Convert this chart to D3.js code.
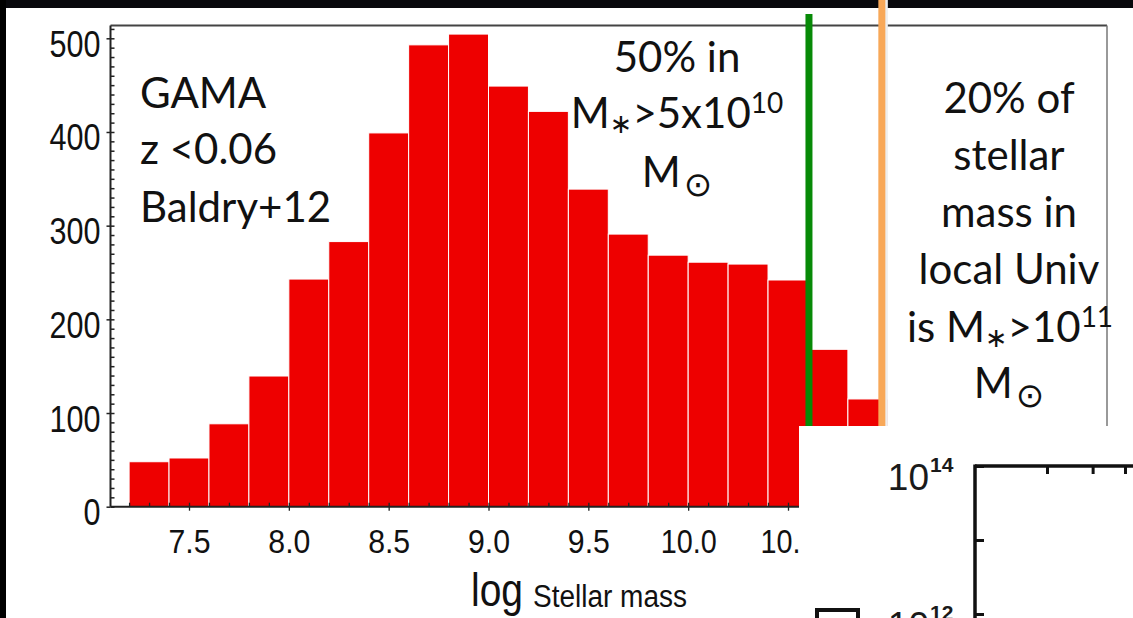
<!DOCTYPE html>
<html>
<head>
<meta charset="utf-8">
<script src="https://cdn.jsdelivr.net/npm/d3@7.9.0/dist/d3.min.js"></script>
<style>
  html, body { margin: 0; padding: 0; background: #fff; }
  svg { display: block; }
  .tick-label { font-family: "Liberation Sans", Arial, sans-serif; fill: #111; }
  .note { font-family: Lato, "Open Sans", sans-serif; fill: #111; }
</style>
</head>
<body>
<div id="chart"></div>
<script>
// histogram bins (left edge of each 0.2 dex bin) and galaxy counts
const binStarts = [7.2, 7.4, 7.6, 7.8, 8.0, 8.2, 8.4, 8.6, 8.8, 9.0, 9.2, 9.4, 9.6, 9.8, 10.0, 10.2, 10.4, 10.6, 10.8];
const counts    = [48, 52, 88.5, 139.5, 243, 283, 399, 493, 504.5, 449, 422, 339, 291, 268.5, 261, 259, 242, 168, 115];
const binWidth = 0.2;

const xTickValues = [7.5, 8.0, 8.5, 9.0, 9.5, 10.0, 10.5];
const yTickValues = [0, 100, 200, 300, 400, 500];

// mass thresholds marked by vertical lines
const greenLineMass = 10.605;
const orangeLineMass = 10.97;

// partial inset panel (log axis)
const insetYTicks = [1e12, 1e13, 1e14];
const insetYLabels = [1e14, 1e12];
const insetXTicks = [2, 3, 4];

const width = 1133;
const height = 618;

const svg = d3.select('#chart')
  .append('svg')
  .attr('width', width)
  .attr('height', height);

// dark slide border
svg.append('rect').attr('x', 0).attr('y', 0).attr('width', width).attr('height', 8).attr('fill', '#08080c');
svg.append('rect').attr('x', 0).attr('y', 0).attr('width', 6).attr('height', height).attr('fill', '#000');

const frame = { left: 110.5, top: 25.5, right: 1107, bottom: 506.7 };

const x = d3.scaleLinear().domain([7.5, 10.5]).range([189, 788]);
const y = d3.scaleLinear().domain([0, 500]).range([506.7, 38.3]);

// bars
svg.append('g')
  .selectAll('rect')
  .data(binStarts.map((b, i) => ({ start: b, count: counts[i] })))
  .join('rect')
  .attr('x', d => x(d.start))
  .attr('y', d => y(d.count))
  .attr('width', d => x(d.start + binWidth) - x(d.start))
  .attr('height', d => y(0) - y(d.count))
  .attr('fill', '#ee0000')
  .attr('stroke', '#fff')
  .attr('stroke-width', 1);

// frame
svg.append('line').attr('x1', frame.left).attr('x2', frame.right).attr('y1', frame.top).attr('y2', frame.top)
  .attr('stroke', '#444').attr('stroke-width', 2);
svg.append('line').attr('x1', frame.right).attr('x2', frame.right).attr('y1', frame.top).attr('y2', frame.bottom)
  .attr('stroke', '#777').attr('stroke-width', 1.5);

// x axis: major ticks outward with labels, minor ticks inward
const xAxis = svg.append('g')
  .attr('transform', `translate(0, ${frame.bottom})`)
  .call(d3.axisBottom(x).tickValues(xTickValues).tickSize(4).tickFormat(d3.format('.1f')));
xAxis.select('.domain').remove();
xAxis.selectAll('.tick line').attr('stroke', '#222').attr('stroke-width', 1.3);
xAxis.selectAll('.tick text')
  .attr('class', 'tick-label')
  .attr('y', 46).attr('dy', 0)
  .style('font-size', '33px')
  .attr('textLength', function () { return this.textContent.length * 14; })
  .attr('lengthAdjust', 'spacingAndGlyphs')
  .attr('fill', '#111');

const xMinor = d3.range(7.2, 10.95, 0.1);
svg.append('g')
  .attr('transform', `translate(0, ${frame.bottom})`)
  .call(d3.axisTop(x).tickValues(xMinor).tickSize(4).tickFormat(''))
  .call(g => g.select('.domain').remove())
  .selectAll('.tick line').attr('stroke', '#222').attr('stroke-width', 1.3);

svg.append('line').attr('x1', frame.left).attr('x2', frame.right).attr('y1', frame.bottom).attr('y2', frame.bottom)
  .attr('stroke', '#222').attr('stroke-width', 2);

// y axis
const yAxis = svg.append('g')
  .attr('transform', `translate(${frame.left}, 0)`)
  .call(d3.axisLeft(y).tickValues(yTickValues).tickSize(4));
yAxis.select('.domain').remove();
yAxis.selectAll('.tick line').attr('stroke', '#222').attr('stroke-width', 1.5);
yAxis.selectAll('.tick text')
  .attr('class', 'tick-label')
  .attr('x', -10).attr('dy', 18)
  .style('font-size', '36px')
  .attr('textLength', function () { return this.textContent.length * 17; })
  .attr('lengthAdjust', 'spacingAndGlyphs')
  .attr('fill', '#111');

const yMinor = d3.range(0, 515, 10);
svg.append('g')
  .attr('transform', `translate(${frame.left}, 0)`)
  .call(d3.axisRight(y).tickValues(yMinor).tickSize(4).tickFormat(''))
  .call(g => g.select('.domain').remove())
  .selectAll('.tick line').attr('stroke', '#222').attr('stroke-width', 1.5);

svg.append('line').attr('x1', frame.left).attr('x2', frame.left).attr('y1', frame.top).attr('y2', frame.bottom)
  .attr('stroke', '#222').attr('stroke-width', 2);

// axis title
svg.append('text')
  .attr('class', 'tick-label')
  .attr('x', 471).attr('y', 606)
  .style('font-size', '47px')
  .attr('textLength', 52).attr('lengthAdjust', 'spacingAndGlyphs')
  .text('log');
svg.append('text')
  .attr('class', 'tick-label')
  .attr('x', 533).attr('y', 607)
  .style('font-size', '31px')
  .attr('textLength', 154).attr('lengthAdjust', 'spacingAndGlyphs')
  .text('Stellar mass');

// vertical threshold lines
svg.append('line')
  .attr('x1', x(greenLineMass)).attr('x2', x(greenLineMass))
  .attr('y1', 14).attr('y2', height)
  .attr('stroke', '#078a07').attr('stroke-width', 7);
svg.append('line')
  .attr('x1', x(orangeLineMass) + 2).attr('x2', x(orangeLineMass) + 2)
  .attr('y1', 0).attr('y2', height)
  .attr('stroke', '#eeeeee').attr('stroke-width', 8);
svg.append('line')
  .attr('x1', x(orangeLineMass)).attr('x2', x(orangeLineMass))
  .attr('y1', 0).attr('y2', height)
  .attr('stroke', '#f8a858').attr('stroke-width', 7);

// annotations
function noteLine(cx, by, anchor, parts) {
  const t = svg.append('text')
    .attr('class', 'note')
    .attr('x', cx).attr('y', by)
    .attr('text-anchor', anchor)
    .style('font-size', '42px');
  parts.forEach(p => {
    const s = t.append('tspan').text(p.text);
    if (p.size) s.style('font-size', p.size + 'px');
    if (p.dy) s.attr('dy', p.dy);
    if (p.dx) s.attr('dx', p.dx);
    if (p.font) s.style('font-family', p.font);
  });
  return t;
}

noteLine(140, 108, 'start', [{ text: 'GAMA' }]);
noteLine(140, 164, 'start', [{ text: 'z <0.06' }]);
noteLine(140, 222, 'start', [{ text: 'Baldry+12' }]);

noteLine(677, 72, 'middle', [{ text: '50% in' }]);
noteLine(677, 128, 'middle', [
  { text: 'M' },
  { text: '\u2217', size: 27, dy: 5, font: 'DejaVu Sans' },
  { text: '>5x10', dy: -5 },
  { text: '10', size: 28, dy: -15 },
  { text: '', dy: 15 }
]);
noteLine(677, 187, 'middle', [
  { text: 'M' },
  { text: '\u2299', size: 34, dx: 3, dy: 9, font: 'DejaVu Sans' }
]);

noteLine(1009, 113, 'middle', [{ text: '20% of' }]);
noteLine(1009, 170, 'middle', [{ text: 'stellar' }]);
noteLine(1009, 227, 'middle', [{ text: 'mass in' }]);
noteLine(1009, 284, 'middle', [{ text: 'local Univ' }]);
noteLine(1010, 342, 'middle', [
  { text: 'is M' },
  { text: '\u2217', size: 27, dy: 5, font: 'DejaVu Sans' },
  { text: '>10', dy: -5 },
  { text: '11', size: 28, dy: -15 },
  { text: '', dy: 15 }
]);
noteLine(1009, 398, 'middle', [
  { text: 'M' },
  { text: '\u2299', size: 34, dx: 3, dy: 9, font: 'DejaVu Sans' }
]);

// inset panel pasted over the lower right
svg.append('rect')
  .attr('x', 799).attr('y', 426)
  .attr('width', width - 799).attr('height', height - 426)
  .attr('fill', '#fff');

const yIn = d3.scaleLog().domain([1e12, 1e14]).range([614, 466]);
const xIn = d3.scaleLog().domain([2, 4]).range([1047, 1125]);

svg.append('line').attr('x1', 975).attr('x2', width).attr('y1', yIn(1e14)).attr('y2', yIn(1e14))
  .attr('stroke', '#111').attr('stroke-width', 3.5);
svg.append('line').attr('x1', 975).attr('x2', 975).attr('y1', yIn(1e14) - 1.5).attr('y2', height)
  .attr('stroke', '#111').attr('stroke-width', 3.5);

svg.append('g')
  .attr('transform', `translate(975, 0)`)
  .call(d3.axisRight(yIn).tickValues(insetYTicks).tickSize(9).tickFormat(''))
  .call(g => g.select('.domain').remove())
  .selectAll('.tick line').attr('stroke', '#111').attr('stroke-width', 3);

svg.append('g')
  .attr('transform', `translate(0, ${yIn(1e14)})`)
  .call(d3.axisBottom(xIn).tickValues(insetXTicks).tickSize(8).tickFormat(''))
  .call(g => g.select('.domain').remove())
  .selectAll('.tick line').attr('stroke', '#111').attr('stroke-width', 3);

insetYLabels.forEach(v => {
  svg.append('text')
    .attr('x', 929).attr('y', yIn(v) + 24)
    .attr('text-anchor', 'end')
    .style('font-family', '"Liberation Sans", Arial, sans-serif')
    .style('font-size', '37px')
    .attr('fill', '#1a1a1a')
    .text('10');
  svg.append('text')
    .attr('x', 930).attr('y', yIn(v) + 6)
    .style('font-family', '"Liberation Sans", Arial, sans-serif')
    .style('font-size', '21px')
    .style('font-weight', 'bold')
    .attr('fill', '#1a1a1a')
    .text(String(Math.round(Math.log10(v))));
});

// open legend box, cut by the slide edge
svg.append('rect')
  .attr('x', 817).attr('y', 610)
  .attr('width', 41).attr('height', 40)
  .attr('fill', 'none')
  .attr('stroke', '#111')
  .attr('stroke-width', 4);
</script>
</body>
</html>
